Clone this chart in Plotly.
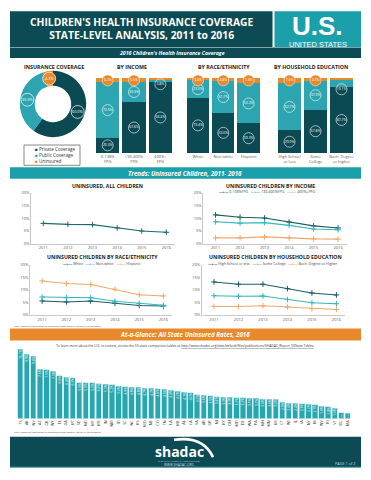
import math
import plotly.graph_objects as go

# The page body has an 8px margin, so the figure is sized to fit the 371x480 window
# and coordinates below are given in window pixels (offset by the margin).
OFF = 8
W, H = 371 - 2 * OFF, 480 - 2 * OFF
def px(x): return (x - OFF) / W
def py(y): return 1 - (y - OFF) / H

DARK = "#0c4a54"; TEAL = "#1ba0ab"; ORANGE = "#e8892c"
C_PRIV = "#0b4953"; C_PUB = "#2ca5b0"; C_UNI = "#e8892c"
L1 = "#1a5c62"; L2 = "#33b7c0"; L3 = "#f0a868"
FONT = "Open Sans"

# ---------------- data ----------------
coverage_labels = ["Private Coverage", "Public Coverage", "Uninsured"]
coverage_values = [60.0, 35.3, 4.7]

income_cats = ["0-138%<br>FPG", "139-400%<br>FPG", "400%+<br>FPG"]
income_private = [20.3, 67.6, 94.4]
income_public = [73.5, 26.9, 3.8]
income_uninsured = [6.2, 5.5, 1.8]

race_cats = ["White", "Non-white", "Hispanic"]
race_private = [73.4, 53.5, 39.3]
race_public = [23.0, 41.7, 53.2]
race_uninsured = [3.6, 4.8, 7.4]

edu_cats = ["High School<br>or less", "Some<br>College", "Bach. Degree<br>or higher"]
edu_private = [29.9, 57.8, 87.7]
edu_public = [62.7, 37.9, 10.1]
edu_uninsured = [7.5, 4.3, 2.2]

years = [2011, 2012, 2013, 2014, 2015, 2016]
all_children = [8.0, 7.6, 7.5, 6.2, 5.0, 4.5]
inc_0_138 = [11.3, 10.4, 10.1, 8.5, 7.0, 6.2]
inc_139_400 = [8.6, 8.1, 8.3, 7.2, 5.8, 5.5]
inc_400p = [2.3, 2.3, 2.7, 2.3, 1.9, 1.8]
race_white = [5.6, 5.2, 5.6, 4.7, 3.8, 3.6]
race_nonwhite = [7.2, 6.9, 6.9, 5.5, 4.6, 3.9]
race_hispanic = [13.6, 12.6, 12.2, 10.3, 8.1, 7.6]
edu_hs = [13.2, 12.3, 12.3, 10.5, 8.8, 8.0]
edu_some = [7.7, 7.5, 7.6, 6.2, 4.9, 4.5]
edu_bach = [3.4, 3.4, 3.7, 3.2, 2.5, 2.2]

states = ["TX", "AK", "NV", "AZ", "OK", "WY", "FL", "GA", "UT", "SD", "ND", "MT", "MS",
          "IN", "NM", "ID", "SC", "NC", "KS", "MO", "NE", "CO", "TN", "LA", "ME", "AL",
          "CA", "VA", "AR", "OR", "NJ", "KY", "OH", "MD", "DE", "WA", "PA", "NH", "MN",
          "MI", "CT", "WI", "IL", "IA", "NY", "HI", "WV", "RI", "VT", "DC", "MA"]
state_rates = [10.7, 9.9, 9.6, 7.6, 7.5, 7.3, 6.6, 6.4, 6.3, 5.5, 5.5, 5.5, 5.4,
               5.3, 5.2, 5.0, 4.9, 4.8, 4.8, 4.7, 4.7, 4.6, 4.5, 4.4, 4.2, 4.1,
               4.0, 3.7, 3.6, 3.5, 3.4, 3.3, 3.3, 3.2, 3.2, 3.1, 3.1, 3.0, 3.0,
               3.0, 2.5, 2.4, 2.4, 2.3, 2.2, 2.1, 1.9, 1.8, 1.6, 0.9, 0.8]

fig = go.Figure()
shapes = []
ann = []

def T(x, y, text, size, color="#1a1a1a", xanchor="center", align="center", pad=1, family=FONT):
    ann.append(dict(x=px(x), y=py(y), xref="paper", yref="paper", text=text, showarrow=False,
                    xanchor=xanchor, yanchor="middle", align=align, borderpad=pad,
                    font=dict(size=size, color=color, family=family)))

# ---------------- pie ----------------
PIE_L, PIE_R, PIE_T, PIE_B = 19.5, 86.5, 68.5, 135.5
fig.add_trace(go.Pie(values=coverage_values, labels=coverage_labels, hole=0.55, sort=False,
                     direction="clockwise", rotation=0, textinfo="none",
                     marker=dict(colors=[C_PRIV, C_PUB, C_UNI], line=dict(width=0)),
                     domain=dict(x=[px(PIE_L), px(PIE_R)], y=[py(PIE_B), py(PIE_T)]),
                     hoverinfo="label+value"))
cx, cy = (PIE_L + PIE_R) / 2, (PIE_T + PIE_B) / 2
R = (PIE_R - PIE_L) / 2 * 0.775
tot = sum(coverage_values); cum = 0
for v, c in zip(coverage_values, [C_PRIV, C_PUB, C_UNI]):
    th = 2 * math.pi * (cum + v / 2) / tot
    cum += v
    lx = cx + R * math.sin(th); ly = cy - R * math.cos(th)
    rr = 6.5
    shapes.append(dict(type="circle", xref="paper", yref="paper", layer="above",
                       x0=px(lx - rr), x1=px(lx + rr), y0=py(ly + rr), y1=py(ly - rr),
                       fillcolor=(C_UNI if c == C_UNI else "rgba(0,0,0,0)"),
                       line=dict(color="white", width=0.7)))
    T(lx, ly, f"{v:.1f}%", 3.8, "white", pad=0)

# ---------------- stacked bars ----------------
def stacked(cats, priv, pub, uni, ax):
    xa, ya = "x" + ax, "y" + ax
    for vals, col, name in [(priv, C_PRIV, "Private"), (pub, C_PUB, "Public"), (uni, C_UNI, "Uninsured")]:
        fig.add_trace(go.Bar(x=cats, y=vals, marker=dict(color=col, line=dict(width=0)), width=0.88,
                             name=name, xaxis=xa, yaxis=ya))
    wx, wy, wt = [], [], []
    ox, oy, ot = [], [], []
    for c, a, b, u in zip(cats, priv, pub, uni):
        wx.append(c); wy.append(a / 2); wt.append(f"{a:.1f}%")
        if b < 15:
            wx.append(c); wy.append(a - 3); wt.append(f"{b:.1f}%")
            ox.append(c); oy.append(102.5); ot.append(f"{u:.1f}%")
        else:
            wx.append(c); wy.append(a + b / 2); wt.append(f"{b:.1f}%")
            ox.append(c); oy.append(100 - 3.5); ot.append(f"{u:.1f}%")
    fig.add_trace(go.Scatter(x=wx, y=wy, text=wt, mode="markers+text", xaxis=xa, yaxis=ya,
                             marker=dict(size=11, color="rgba(0,0,0,0)", line=dict(color="white", width=0.6)),
                             textfont=dict(size=3.4, color="white", family=FONT), cliponaxis=False))
    fig.add_trace(go.Scatter(x=ox, y=oy, text=ot, mode="markers+text", xaxis=xa, yaxis=ya,
                             marker=dict(size=11, color=ORANGE, line=dict(color="white", width=0.5)),
                             textfont=dict(size=3.4, color="white", family=FONT), cliponaxis=False))

stacked(income_cats, income_private, income_public, income_uninsured, "")
stacked(race_cats, race_private, race_public, race_uninsured, "2")
stacked(edu_cats, edu_private, edu_public, edu_uninsured, "3")

# ---------------- line charts ----------------
def line(yv, col, ax, name):
    fig.add_trace(go.Scatter(x=years, y=yv, mode="lines+markers", name=name,
                             line=dict(color=col, width=1.1),
                             marker=dict(symbol="cross-thin", size=4, line=dict(width=1, color=col)),
                             xaxis="x" + ax, yaxis="y" + ax))

line(all_children, "#1d6a6e", "4", "All children")
line(inc_0_138, L1, "5", "0-138%FPG"); line(inc_139_400, L2, "5", "139-400%FPG"); line(inc_400p, L3, "5", "400%+FPG")
line(race_white, L1, "6", "White"); line(race_nonwhite, L2, "6", "Non-white"); line(race_hispanic, L3, "6", "Hispanic")
line(edu_hs, L1, "7", "High School or less"); line(edu_some, L2, "7", "Some College"); line(edu_bach, L3, "7", "Bach. Degree or Higher")

# ---------------- state bars ----------------
fig.add_trace(go.Bar(x=states, y=state_rates, xaxis="x8", yaxis="y8", width=0.8,
                     marker=dict(color="#28a6b0", line=dict(color="#a8e0e4", width=0.6)),
                     texttemplate="%{y:.1f}%", textposition="inside", insidetextanchor="end",
                     textangle=-90, textfont=dict(size=3.3, color="white", family=FONT)))

# ---------------- axes ----------------
def bar_axes(n, x0, x1):
    fig.layout["xaxis" + n] = dict(domain=[px(x0), px(x1)], anchor="y" + n, showgrid=False, zeroline=False,
                                   ticks="", tickfont=dict(size=4, color="#555", family=FONT), showline=False)
    fig.layout["yaxis" + n] = dict(domain=[py(151.5), py(75.5)], range=[0, 100], anchor="x" + n, visible=False)

bar_axes("", 94.5, 173.5)
bar_axes("2", 185.3, 261.3)
bar_axes("3", 276.5, 354.5)

def line_axes(n, x0, x1, ytop, ybot):
    fig.layout["xaxis" + n] = dict(domain=[px(x0), px(x1)], range=[2010.5, 2016.35], anchor="y" + n,
                                   tickvals=years, showgrid=False, zeroline=False, ticks="",
                                   showline=True, linecolor="#c8c8c8", linewidth=0.8,
                                   tickfont=dict(size=4, color="#555", family=FONT))
    fig.layout["yaxis" + n] = dict(domain=[py(ybot), py(ytop)], range=[0, 20], anchor="x" + n,
                                   tickvals=[0, 5, 10, 15, 20], ticktext=["0%", "5%", "10%", "15%", "20%"],
                                   showgrid=False, zeroline=False, ticks="", showline=True,
                                   linecolor="#c8c8c8", linewidth=0.8,
                                   tickfont=dict(size=4, color="#555", family=FONT))

line_axes("4", 31, 175, 191.7, 243.3)
line_axes("5", 203.3, 346.7, 191.7, 243.3)
line_axes("6", 30, 172, 264.7, 315.3)
line_axes("7", 201.7, 345, 264.7, 315.3)

fig.layout["xaxis8"] = dict(domain=[px(17), px(351)], anchor="y8", tickangle=-90, ticks="",
                            showgrid=False, zeroline=False, showline=False,
                            tickfont=dict(size=3.8, color="#333", family=FONT))
fig.layout["yaxis8"] = dict(domain=[py(420), py(348)], range=[0, 11], anchor="x8", visible=False)

# ---------------- shapes ----------------
def rect(x0, y0, x1, y1, col):
    return dict(type="rect", xref="paper", yref="paper", x0=px(x0), x1=px(x1), y0=py(y1), y1=py(y0),
                fillcolor=col, line=dict(width=0), layer="below")

shapes += [
    rect(10, 8.3, 272.5, 44.3, DARK),
    rect(274.5, 8.3, 361, 44.3, TEAL),
    rect(10, 45, 361, 55.5, DARK),
    rect(10, 166, 361, 177.7, TEAL),
    rect(10, 329, 361, 341, ORANGE),
    rect(10, 438.3, 361, 469.5, DARK),
    rect(10, 468.7, 361, 469.7, "#5fa9b0"),
    dict(type="rect", xref="paper", yref="paper", x0=px(24), x1=px(80), y0=py(164), y1=py(143.5),
         line=dict(color="#555", width=0.7), fillcolor="white", layer="below"),
    dict(type="path", xref="paper", yref="paper",
         path=f"M {px(174)},{py(441.5)} Q {px(203)},{py(437)} {px(213)},{py(459)}",
         line=dict(color="white", width=2.6)),
]
fig.layout.shapes = shapes

# ---------------- annotations ----------------
T(141.5, 25.5, "<b>CHILDREN'S HEALTH INSURANCE COVERAGE<br>STATE-LEVEL ANALYSIS, 2011 to 2016</b>", 10.3, "white")
T(317.5, 22.9, "<b>U.S.</b>", 26, "white", pad=0, family="Liberation Sans")
T(317.5, 41.7, "UNITED STATES", 7.5, "white", pad=0, family="Liberation Sans")
T(172, 50.2, "<b><i>2016 Children's Health Insurance Coverage</i></b>", 5.2, "white")

T(54, 64.3, "<b>INSURANCE COVERAGE</b>", 5.3)
T(132, 64.3, "<b>BY INCOME</b>", 5.3)
T(223.5, 64.3, "<b>BY RACE/ETHNICITY</b>", 5.3)
T(311, 64.3, "<b>BY HOUSEHOLD EDUCATION</b>", 5.3)

leg = (f'<span style="color:{C_PRIV}">■</span> Private Coverage<br>'
       f'<span style="color:{C_PUB}">■</span> Public Coverage<br>'
       f'<span style="color:{C_UNI}">■</span> Uninsured')
T(33, 153.7, leg, 4.6, "#333", xanchor="left", align="left")

T(185, 171.9, "<b><i>Trends: Uninsured Children, 2011- 2016</i></b>", 6.2, "white")

T(107, 184.7, "<b>UNINSURED, ALL CHILDREN</b>", 5.2)
T(270, 184.5, "<b>UNINSURED CHILDREN BY INCOME</b>", 5.2)
T(103, 256.7, "<b>UNINSURED CHILDREN BY RACE/ETHNICITY</b>", 5.2)
T(275, 256.7, "<b>UNINSURED CHILDREN BY HOUSEHOLD EDUCATION</b>", 5.2)

def lg(items):
    return "   ".join(f'<span style="color:{c}"><b>—+—</b></span> {n}' for c, n in items)
T(267, 190.2, lg([(L1, "0-138%FPG"), (L2, "139-400%FPG"), (L3, "400%+FPG")]), 3.6, "#444")
T(102, 263.3, lg([(L1, "White"), (L2, "Non-white"), (L3, "Hispanic")]), 3.6, "#444")
T(273, 263.3, lg([(L1, "High School or less"), (L2, "Some College"), (L3, "Bach. Degree or Higher")]), 3.6, "#444")

note = "<i>Note: Please see table below for significance and reliability testing of the estimates.</i>"
T(12, 326, note, 2.4, "#444", xanchor="left", align="left")
T(185, 335, "<b><i>At-a-Glance: All State Uninsured Rates, 2016</i></b>", 6.2, "white")
T(185, 345.8, "To learn more about the U.S. in context, access the 50-state comparison tables at "
    "<u>http://www.shadac.org/sites/default/files/publications/SHADAC_Report_50State Tables</u>.", 3.3, "#333")
T(12, 433.5, note, 2.4, "#444", xanchor="left", align="left")

T(179, 453, "<b>shadac</b>", 14, "white")
T(179, 463.3, "STATE HEALTH ACCESS DATA ASSISTANCE CENTER", 1.8, "#cde")
T(179, 466.5, "WWW.SHADAC.ORG", 3.2, "#cde")
T(357, 465.5, "PAGE 1 of 2", 3.8, "#cde", xanchor="right")

fig.layout.annotations = ann

fig.update_layout(width=W, height=H, margin=dict(l=0, r=0, t=0, b=0), autosize=False,
                  paper_bgcolor="white", plot_bgcolor="rgba(0,0,0,0)", barmode="stack",
                  showlegend=False, font=dict(family=FONT))

fig.write_html("out.html")
